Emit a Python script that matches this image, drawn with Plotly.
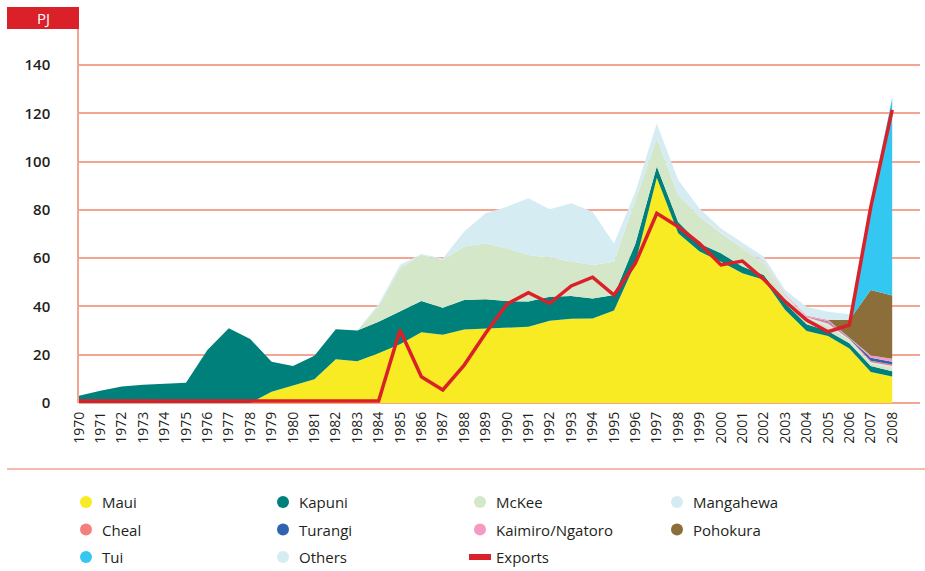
import plotly.graph_objects as go

years = list(range(1970, 2009))

maui = [0, 0, 0, 0, 0, 0, 0, 0, 0, 4.7, 7.2, 9.8, 18.1, 17.3, 20.6, 24.3, 29.3, 28.3, 30.4, 30.8,
        31.2, 31.6, 34.1, 34.9, 35.0, 38.3, 57.9, 93.3, 70.3, 62.7, 58.5, 53.7, 51.0, 38.5, 29.8,
        27.7, 22.6, 12.8, 11.0]
kapuni = [3.0, 5.1, 6.8, 7.6, 8.0, 8.4, 22.0, 31.0, 26.5, 12.4, 8.1, 9.8, 12.4, 12.7, 13.1, 13.8,
          12.9, 11.2, 12.3, 12.2, 11.0, 10.4, 9.9, 9.4, 8.3, 6.4, 8.1, 4.7, 4.7, 3.4, 3.5, 2.8, 2.0,
          2.8, 2.8, 2.1, 2.1, 2.5, 2.2]
mckee = [0, 0, 0, 0, 0, 0, 0, 0, 0, 0, 0, 0, 0, 0, 6.3, 17.7, 19.1, 19.7, 22.1, 23.1, 21.9, 19.3,
         16.2, 14.5, 13.9, 13.8, 18.0, 11.6, 11.2, 11.1, 8.3, 7.6, 4.9, 2.7, 2.6, 2.2, 1.4, 1.1, 1.5]
mangahewa = [0] * 30 + [0.3, 0.5, 0.6, 0.5, 0.3, 0.8, 0.3, 0.5, 0.6]
cheal = [0] * 32 + [0.2, 0.2, 0.2, 0.8, 0.3, 0.6, 0.6]
turangi = [0] * 35 + [0.3, 0.2, 1.2, 1.2]
kaimiro = [0] * 33 + [0.3, 0.5, 0.6, 0.2, 1.0, 1.2]
pohokura = [0] * 36 + [7.3, 27.1, 26.2]
tui = [0] * 37 + [36.0, 82.0]
others = [0] * 14 + [1.0, 1.4, 0.4, 0.7, 6.2, 12.5, 17.2, 23.5, 20.0, 23.9, 22.0, 7.6, 3.5, 6.2,
                     6.2, 3.4, 1.7, 2.0, 1.9, 1.8, 3.7, 3.3, 2.4, 0.3, 0.5]
exports = [0.8] * 15 + [30.2, 10.9, 5.4, 15.7, 28.9, 41.0, 45.7, 41.3, 48.5, 52.1, 44.7, 57.9,
                        78.6, 73.0, 66.0, 57.2, 58.8, 51.2, 42.0, 34.4, 29.5, 32.3, 81.3, 121.4]

series_names = ["Maui", "Kapuni", "McKee", "Mangahewa", "Cheal", "Turangi",
                "Kaimiro/Ngatoro", "Pohokura", "Tui", "Others"]
series_values = [maui, kapuni, mckee, mangahewa, cheal, turangi, kaimiro, pohokura, tui, others]
series_colors = ["#f8eb23", "#00807b", "#d4e7c9", "#d3ecf3", "#f4807e", "#2f64ae",
                 "#f49bc2", "#8c6e3a", "#33c7f2", "#d5ecf3"]
export_name = "Exports"
export_color = "#da2129"
y_ticks = [0, 20, 40, 60, 80, 100, 120, 140]
unit_label = "PJ"

W, H = 925, 571
ML, MR, MT, MB = 79, 5, 7, 168
PW, PH = W - ML - MR, H - MT - MB
px_per_year = 21.4
px_per_pj = 338 / 140.0

grid_col = "#f3a591"
text_col = "#231f20"
FONT = "Open Sans"

fig = go.Figure()
for name, vals, col in zip(series_names, series_values, series_colors):
    fig.add_trace(go.Scatter(
        x=years, y=vals, name=name, stackgroup="one", mode="lines",
        line=dict(width=0, color=col), fillcolor=col, showlegend=False,
        hoverinfo="x+y+name"))
fig.add_trace(go.Scatter(
    x=years, y=exports, name=export_name, mode="lines",
    line=dict(width=3.5, color=export_color), showlegend=False))


def paper_x(px):
    return (px - ML) / PW


def paper_y(py):
    return (MT + PH - py) / PH


shapes = []
annotations = []

# unit box
shapes.append(dict(type="rect", xref="paper", yref="paper",
                   x0=paper_x(7), x1=paper_x(79), y0=paper_y(29), y1=paper_y(7),
                   fillcolor=export_color, line=dict(width=0), layer="above"))
annotations.append(dict(xref="paper", yref="paper", x=paper_x(43), y=paper_y(18),
                        text=unit_label, showarrow=False,
                        font=dict(family=FONT, size=15, color="white"),
                        xanchor="center", yanchor="middle"))

# separator line
shapes.append(dict(type="line", xref="paper", yref="paper",
                   x0=paper_x(7), x1=paper_x(925), y0=paper_y(469), y1=paper_y(469),
                   line=dict(color=grid_col, width=1.5)))

# legend
legend_names = series_names + [export_name]
legend_colors = series_colors + [export_color]
for i, (nm, col) in enumerate(zip(legend_names, legend_colors)):
    row, colm = divmod(i, 4)
    cx = 86 + colm * 197
    cy = 502 + row * 27.5
    if nm == export_name:
        shapes.append(dict(type="rect", xref="paper", yref="paper",
                           x0=paper_x(cx - 11), x1=paper_x(cx + 11),
                           y0=paper_y(cy + 3), y1=paper_y(cy - 3),
                           fillcolor=col, line=dict(width=0)))
    else:
        shapes.append(dict(type="circle", xref="paper", yref="paper",
                           x0=paper_x(cx - 6), x1=paper_x(cx + 6),
                           y0=paper_y(cy + 6), y1=paper_y(cy - 6),
                           fillcolor=col, line=dict(width=0)))
    annotations.append(dict(xref="paper", yref="paper", x=paper_x(cx + 14), y=paper_y(cy),
                            text=nm, showarrow=False, xanchor="left", yanchor="middle",
                            font=dict(family=FONT, size=15, color=text_col)))

fig.update_layout(
    width=W, height=H,
    margin=dict(l=ML, r=MR, t=MT, b=MB, pad=0),
    paper_bgcolor="white", plot_bgcolor="white",
    showlegend=False,
    font=dict(family=FONT, color=text_col),
    shapes=shapes, annotations=annotations,
    xaxis=dict(range=[1970, 1970 + PW / px_per_year], tickmode="array",
               tickvals=years, ticktext=[str(y) for y in years], tickangle=-90,
               tickfont=dict(family=FONT, size=14, color=text_col),
               showgrid=False, zeroline=False, showline=False, ticks="",
               ticklabelstandoff=5),
    yaxis=dict(range=[0, PH / px_per_pj], tickmode="array", tickvals=y_ticks,
               ticktext=[str(v) for v in y_ticks],
               tickfont=dict(family=FONT, size=15, color=text_col, weight=600),
               showgrid=True, gridcolor=grid_col, gridwidth=1.5,
               zeroline=True, zerolinecolor=grid_col, zerolinewidth=1.5,
               showline=True, linecolor=grid_col, linewidth=1.5,
               ticks="", ticklabelstandoff=24),
)

fig.write_html("out.html", config={"displayModeBar": False},
               post_script="document.body.style.margin='0';document.body.style.overflow='hidden';")
